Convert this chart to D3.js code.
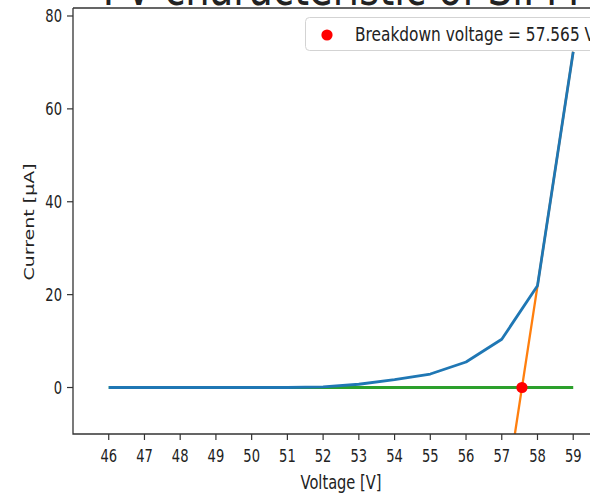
<!DOCTYPE html>
<html><head><meta charset="utf-8">
<script src="https://cdn.jsdelivr.net/npm/d3@7"></script>
<style>body{margin:0;background:#fff}svg{display:block}text{font-family:"DejaVu Sans",sans-serif;fill:#222}</style>
</head><body>
<svg id="c" width="590" height="493"></svg>
<script>
const voltages = [46,47,48,49,50,51,52,53,54,55,56,57,58,59];
const currents = [0,0,0,0,0,0,0.15,0.7,1.7,2.9,5.5,10.4,21.9,72.3];
const yTicks = [0,20,40,60,80];
const xTicks = [46,47,48,49,50,51,52,53,54,55,56,57,58,59];
const breakdown = 57.565;
const breakdownLabel = "Breakdown voltage = 57.565 V";
const titleText = "I-V characteristic of SiPM";

const S = 0.77; // horizontal text compression
const svg = d3.select("#c");
const L = 73, T = 8, B = 434;
const x = d3.scaleLinear().domain([45, 60]).range([L, L + 15*35.73]);
const y = d3.scaleLinear().domain([-10.01, 81.72]).range([B, T]);
const R = x(60);

function txt(g, px, py, str, size, anchor, extra) {
  return g.append("text")
    .attr("transform", `translate(${px},${py}) scale(${S},1)` + (extra||""))
    .attr("text-anchor", anchor).attr("font-size", size).text(str);
}

// title (mostly cut off at the top edge)
txt(svg, x(52.5), 5, titleText, 50, "middle");

svg.append("defs").append("clipPath").attr("id","clip")
  .append("rect").attr("x", L).attr("y", T).attr("width", R-L).attr("height", B-T);

const plot = svg.append("g").attr("clip-path","url(#clip)");

// linear fit through last two points
const n = voltages.length;
const slope = (currents[n-1]-currents[n-2])/(voltages[n-1]-voltages[n-2]);
const fit = v => currents[n-2] + slope*(v - voltages[n-2]);
const line = d3.line().x(d=>x(d[0])).y(d=>y(d[1]));

plot.append("path").datum(voltages.map(v=>[v, fit(v)]))
  .attr("d", line).attr("fill","none").attr("stroke","#ff7f0e").attr("stroke-width",2.3);
plot.append("path").datum(voltages.map(v=>[v, 0]))
  .attr("d", line).attr("fill","none").attr("stroke","#2ca02c").attr("stroke-width",3.2);
plot.append("path").datum(voltages.map((v,i)=>[v, currents[i]]))
  .attr("d", line).attr("fill","none").attr("stroke","#1f77b4").attr("stroke-width",2.8)
  .attr("stroke-linejoin","round");
plot.append("circle").attr("cx", x(breakdown)).attr("cy", y(0)).attr("r", 5.6).attr("fill","red");

// spines
const ax = svg.append("g").attr("stroke","#333").attr("stroke-width",1.3).attr("fill","none");
ax.append("path").attr("d", `M${L},${T}H${R+5}M${L},${T}V${B}H${R+5}`);

// y ticks
yTicks.forEach(t=>{
  svg.append("line").attr("x1",L-6).attr("x2",L).attr("y1",y(t)).attr("y2",y(t)).attr("stroke","#333").attr("stroke-width",1.2);
  txt(svg, L-11, y(t)+6, String(t), 17, "end");
});
// x ticks
xTicks.forEach(t=>{
  svg.append("line").attr("x1",x(t)).attr("x2",x(t)).attr("y1",B).attr("y2",B+6).attr("stroke","#333").attr("stroke-width",1.2);
  txt(svg, x(t), 461.5, String(t), 17, "middle");
});

// axis labels
txt(svg, x(52.5), 489, "Voltage [V]", 19, "middle");
txt(svg, 34, 222, "Current [µA]", 19, "middle", " rotate(-90)");

// legend
const lg = svg.append("g");
lg.append("rect").attr("x",305.5).attr("y",17.5).attr("width",330).attr("height",33).attr("rx",4)
  .attr("fill","white").attr("fill-opacity",0.8).attr("stroke","#d3d3d3");
lg.append("circle").attr("cx",327).attr("cy",35).attr("r",5.6).attr("fill","red");
txt(lg, 355, 41, breakdownLabel, 20, "start");
</script>
</body></html>
